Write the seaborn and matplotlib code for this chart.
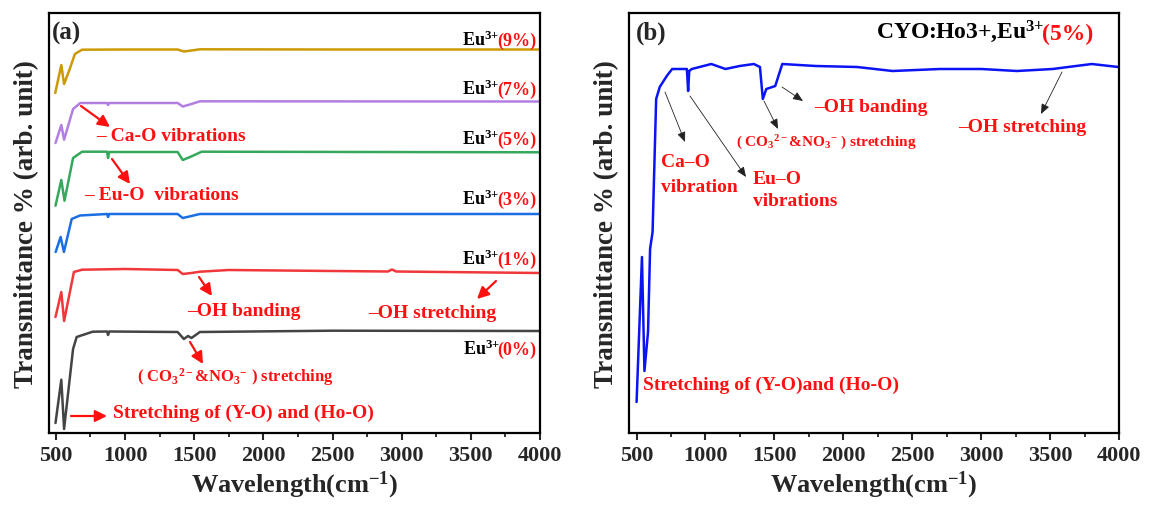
import matplotlib
matplotlib.use("Agg")
import matplotlib.pyplot as plt
import seaborn as sns
import numpy as np
from matplotlib.ticker import MultipleLocator

# ---------------- data (transmittance in arbitrary stacked units) ----------------
labels_a = ["9%", "7%", "5%", "3%", "1%", "0%"]
colors_a = ["#CC9A06", "#B27FE0", "#35A85C", "#1C6FE3", "#F0373A", "#444444"]

x_9 = [495, 539, 559, 600, 637, 689, 1000, 1380, 1425, 1480, 1541, 2500, 3500, 4000]
y_9 = [340, 368, 349, 364, 379, 383.3, 383.5, 383.5, 381.5, 382.5, 383.7, 383.5, 383.5, 383.5]

x_7 = [497, 539, 559, 624, 676, 870, 877, 885, 1380, 1417, 1480, 1541, 4000]
y_7 = [290, 308, 293.3, 324, 330, 330, 328, 330, 330, 326.5, 329, 331.7, 331.5]

x_5 = [497, 539, 562, 624, 689, 870, 877, 885, 1380, 1417, 1470, 1554, 4000]
y_5 = [227.3, 253, 232.3, 275, 281.3, 281.3, 275, 281, 281, 273, 276, 281.3, 280.7]

x_3 = [498, 534, 558, 614, 674, 870, 877, 885, 1380, 1417, 1480, 1541, 4000]
y_3 = [181, 196, 181, 214, 217.5, 219, 216, 219, 219, 215, 217, 219, 219]

x_1 = [497, 539, 559, 630, 689, 1000, 1380, 1417, 1480, 1541, 1750, 2500, 2900, 2930, 2960, 4000]
y_1 = [116, 141, 112, 161, 163.3, 164, 163, 159, 160, 161.3, 163, 162, 161.5, 163.5, 161.5, 160]

x_0 = [497, 539, 559, 624, 650, 766, 870, 877, 885, 1380, 1425, 1455, 1480, 1541, 2500, 4000]
y_0 = [10, 53.3, 4, 84, 96, 101.3, 101.5, 98, 101.5, 101, 94, 97, 95, 101, 102.3, 102]

series_a = [(x_9, y_9), (x_7, y_7), (x_5, y_5), (x_3, y_3), (x_1, y_1), (x_0, y_0)]
label_y_a = [388, 339, 289, 229, 169, 79]   # label baselines

x_b = [500, 539, 557, 583, 598, 616, 642, 668, 719, 758, 865, 874, 882, 900, 1042, 1145,
       1248, 1351, 1395, 1416, 1441, 1506, 1557, 1800, 2100, 2357, 2700, 3002, 3260,
       3518, 3802, 3995]
y_b = [31, 176, 62, 101, 184, 201, 334, 346, 357, 364, 364, 342, 362, 364, 369, 364,
       367, 369, 366, 334, 344, 347, 369, 367, 366, 362, 364, 364, 362, 364, 369, 366]

xticks = [500, 1000, 1500, 2000, 2500, 3000, 3500, 4000]

# ---------------- style ----------------
sns.set_style("ticks")
plt.rcParams["font.family"] = ["Liberation Serif", "DejaVu Serif"]
plt.rcParams["font.weight"] = "bold"
plt.rcParams["mathtext.fontset"] = "custom"
plt.rcParams["mathtext.rm"] = "Liberation Serif:bold"
plt.rcParams["mathtext.it"] = "Liberation Serif:italic:bold"
plt.rcParams["mathtext.bf"] = "Liberation Serif:bold"
plt.rcParams["mathtext.default"] = "rm"

W, H = 1149, 510
fig = plt.figure(figsize=(W / 100, H / 100), dpi=100)

AX_TOP, AX_BOT = 14, 434
geom = {"a": (49, 540), "b": (629, 1119)}


def make_ax(key):
    l, r = geom[key]
    ax = fig.add_axes([l / W, (H - AX_BOT) / H, (r - l) / W, (AX_BOT - AX_TOP) / H])
    return ax


def fpos(key, px, py):
    l, r = geom[key]
    return ((px - l) / (r - l), (AX_BOT - py) / (AX_BOT - AX_TOP))


def style_ax(ax, xmin):
    ax.set_xlim(xmin, 4000)
    ax.set_ylim(0, 420)
    ax.set_xticks(xticks)
    ax.xaxis.set_minor_locator(MultipleLocator(250))
    ax.set_yticks([])
    ax.tick_params(axis="x", which="major", direction="out", length=5, width=1.5,
                   labelsize=16, pad=4)
    ax.tick_params(axis="x", which="minor", direction="out", length=3, width=1.3)
    for t in ax.get_xticklabels():
        t.set_fontweight("bold")
    for s in ax.spines.values():
        s.set_linewidth(1.6)
        s.set_color("black")
    ax.set_xlabel("Wavelength(cm$^{-1}$)", fontsize=19, fontweight="bold", labelpad=2)
    ax.set_ylabel("Transmittance % (arb. unit)", fontsize=19.5, fontweight="bold",
                  labelpad=7)


RED = "#FF1010"
CO3_TXT = "( CO$_3{}^{2-}$&NO$_3{}^{-}$ ) stretching"

# ---------------- panel (a) ----------------
axa = make_ax("a")
for (xs, ys), c in zip(series_a, colors_a):
    sns.lineplot(x=xs, y=ys, ax=axa, color=c, lw=1.8, sort=False, estimator=None)
style_ax(axa, 450)

for lab, ly in zip(labels_a, label_y_a):
    t1 = axa.text(fpos("a", 536, 0)[0], ly, f"({lab})", color=RED, fontsize=13,
                  fontweight="bold", ha="right", va="baseline",
                  transform=axa.get_yaxis_transform())
    axa.annotate("Eu$^{3{+}}$", xy=(0, 0), xycoords=t1, xytext=(1.8, 0),
                 textcoords="offset points", ha="right", va="bottom",
                 fontsize=13, fontweight="bold", color="black")

axa.text(*fpos("a", 52, 33), "(a)", transform=axa.transAxes, fontsize=18,
         fontweight="bold", ha="left", va="center")

ann_a = [
    ("– Ca-O vibrations", (96, 137), (81, 107), (110, 128), 14),
    ("– Eu-O  vibrations", (84, 195), (112, 160), (130, 185), 14),
    ("–OH banding", (187, 312), (199, 278), (212, 297), 14),
    ("–OH stretching", (368, 313), (496, 282), (477, 300), 14),
    (CO3_TXT, (137, 377), (190, 343), (203, 365), 12),
    ("Stretching of (Y-O) and (Ho-O)", (113, 413), (71, 417), (107, 417), 14),
]
for txt, tp, a0, a1, fs in ann_a:
    axa.text(*fpos("a", *tp), txt, transform=axa.transAxes, color=RED, fontsize=fs,
             fontweight="bold", ha="left", va="center")
    axa.annotate("", xy=fpos("a", *a1), xycoords="axes fraction",
                 xytext=fpos("a", *a0), textcoords="axes fraction",
                 arrowprops=dict(arrowstyle="-|>,head_length=0.7,head_width=0.35",
                                 color=RED, lw=1.6, shrinkA=0, shrinkB=0))

# ---------------- panel (b) ----------------
axb = make_ax("b")
sns.lineplot(x=x_b, y=y_b, ax=axb, color="#0A14F5", lw=1.8, sort=False, estimator=None)
style_ax(axb, 445)

axb.text(*fpos("b", 636, 33), "(b)", transform=axb.transAxes, fontsize=18,
         fontweight="bold", ha="left", va="center")
tb = axb.text(*fpos("b", 1093, 40), "(5%)", transform=axb.transAxes, color=RED,
              fontsize=17, fontweight="bold", ha="right", va="baseline")
axb.annotate("CYO:Ho3+,Eu$^{3{+}}$", xy=(0, 0), xycoords=tb, xytext=(2, 0),
             textcoords="offset points", ha="right", va="bottom",
             fontsize=17, fontweight="bold", color="black")

ann_b = [
    ("Ca–O", (661, 163), 14),
    ("vibration", (661, 187), 14),
    ("Eu–O", (753, 180), 14),
    ("vibrations", (753, 202), 14),
    (CO3_TXT, (736, 143), 11),
    ("–OH banding", (814, 108), 14),
    ("–OH stretching", (958, 128), 14),
    ("Stretching of (Y-O)and (Ho-O)", (643, 385), 14),
]
for txt, tp, fs in ann_b:
    axb.text(*fpos("b", *tp), txt, transform=axb.transAxes, color=RED, fontsize=fs,
             fontweight="bold", ha="left", va="center")

arrows_b = [((665, 93), (685, 143)), ((690, 97), (746, 178)), ((764, 102), (778, 130)),
            ((782, 88), (803, 102)), ((1062, 73), (1041, 115))]
for a0, a1 in arrows_b:
    axb.annotate("", xy=fpos("b", *a1), xycoords="axes fraction",
                 xytext=fpos("b", *a0), textcoords="axes fraction",
                 arrowprops=dict(arrowstyle="-|>,head_length=0.6,head_width=0.25",
                                 color="#222222", lw=0.6, shrinkA=0, shrinkB=0))

fig.savefig("out.png", dpi=100)
